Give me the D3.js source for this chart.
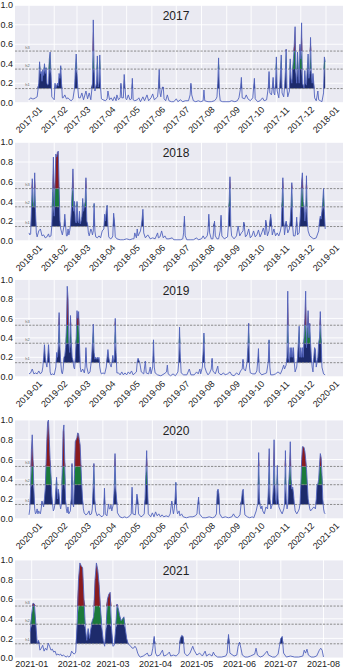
<!DOCTYPE html>
<html>
<head>
<meta charset="utf-8">
<script src="https://cdn.jsdelivr.net/npm/d3@7"></script>
<style>
body { margin: 0; background: #fff; }
svg { display: block; font-family: "Liberation Sans", Arial, sans-serif; }
</style>
</head>
<body>
<div id="chart"></div>
<script>
// thresholds
var h1 = 0.145, h2 = 0.345, h3 = 0.53;
var thresholdLabels = ["h1", "h2", "h3"];
var yTicks = [0, 0.2, 0.4, 0.6, 0.8, 1.0];
var years = [2017, 2018, 2019, 2020, 2021];
var axisEnds = ["2018-01-01", "2019-01-01", "2020-01-01", "2021-01-01", "2021-08-01"];

// [day of year (0 = Jan 1), value]
var series2017 = [[0,0.03],[2,0.05],[4,0.04],[6,0.04],[8,0.05],[10,0.06],[12,0.2],[13,0.42],[14,0.3],[15,0.32],[16,0.22],[17,0.34],[18,0.28],[19,0.4],[20,0.3],[21,0.36],[22,0.2],[23,0.18],[24,0.2],[25,0.45],[26,0.52],[27,0.3],[28,0.06],[29,0.05],[31,0.03],[32,0.2],[33,0.15],[35,0.2],[36,0.17],[37,0.3],[38,0.25],[39,0.38],[40,0.2],[41,0.05],[42,0.05],[44,0.08],[46,0.04],[48,0.05],[50,0.03],[52,0.02],[54,0.04],[56,0.15],[57,0.35],[58,0.5],[59,0.3],[60,0.15],[61,0.05],[63,0.05],[65,0.1],[67,0.03],[70,0.12],[72,0.04],[74,0.1],[76,0.03],[78,0.2],[79,0.85],[80,0.35],[81,0.12],[82,0.16],[83,0.2],[84,0.48],[85,0.16],[86,0.2],[87,0.49],[88,0.15],[89,0.04],[91,0.03],[94,0.02],[96,0.04],[97,0.12],[99,0.03],[101,0.05],[103,0.02],[105,0.06],[107,0.02],[108,0.08],[110,0.03],[112,0.05],[113,0.2],[114,0.05],[116,0.05],[117,0.29],[118,0.15],[119,0.04],[120,0.03],[122,0.08],[124,0.03],[126,0.04],[127,0.25],[128,0.03],[130,0.02],[133,0.03],[135,0.05],[137,0.01],[140,0.06],[142,0.02],[145,0.08],[147,0.02],[150,0.05],[152,0.09],[154,0.03],[158,0.06],[159,0.15],[160,0.34],[161,0.1],[162,0.06],[163,0.12],[164,0.16],[165,0.16],[166,0.04],[168,0.02],[170,0.08],[172,0.02],[175,0.01],[178,0.01],[181,0.04],[183,0.01],[186,0.03],[189,0.01],[192,0.02],[196,0.02],[198,0.08],[199,0.2],[200,0.08],[202,0.02],[205,0.01],[208,0.02],[211,0.01],[214,0.02],[215,0.13],[216,0.02],[220,0.01],[224,0.01],[228,0.02],[230,0.04],[231,0.06],[232,0.2],[233,0.46],[234,0.1],[235,0.02],[238,0.01],[242,0.01],[246,0.01],[249,0.02],[253,0.01],[256,0.02],[258,0.05],[260,0.15],[261,0.26],[262,0.05],[265,0.04],[267,0.08],[269,0.04],[272,0.02],[275,0.05],[276,0.15],[277,0.25],[278,0.04],[281,0.01],[284,0.02],[287,0.05],[289,0.02],[292,0.03],[294,0.15],[295,0.32],[296,0.1],[298,0.08],[299,0.15],[300,0.26],[301,0.1],[302,0.08],[303,0.2],[304,0.47],[305,0.12],[307,0.05],[308,0.15],[309,0.3],[310,0.49],[311,0.1],[313,0.06],[314,0.15],[315,0.3],[316,0.55],[317,0.15],[318,0.06],[320,0.12],[321,0.45],[322,0.25],[323,0.2],[324,0.35],[325,0.45],[326,0.6],[327,0.78],[328,0.3],[329,0.2],[330,0.52],[331,0.35],[332,0.2],[333,0.6],[334,0.45],[335,0.82],[336,0.2],[337,0.18],[338,0.15],[339,0.33],[340,0.2],[341,0.18],[342,0.35],[343,0.5],[344,0.25],[345,0.3],[346,0.67],[347,0.3],[348,0.2],[349,0.3],[350,0.2],[351,0.05],[353,0.02],[355,0.12],[356,0.03],[358,0.02],[360,0.01],[362,0.1],[363,0.47],[364,0.42]];

var series2018 = [[0,0.08],[1,0.06],[2,0.07],[3,0.3],[4,0.63],[5,0.4],[6,0.35],[7,0.69],[8,0.3],[9,0.08],[10,0.04],[12,0.1],[14,0.12],[16,0.05],[18,0.06],[20,0.03],[22,0.04],[24,0.07],[25,0.04],[27,0.05],[28,0.15],[29,0.5],[30,0.85],[31,0.25],[32,0.6],[33,0.88],[34,0.85],[35,0.9],[36,0.91],[37,0.55],[38,0.2],[39,0.12],[41,0.06],[43,0.15],[44,0.27],[45,0.15],[46,0.05],[47,0.05],[48,0.12],[49,0.06],[50,0.1],[51,0.16],[52,0.3],[53,0.5],[54,0.73],[55,0.3],[56,0.4],[57,0.2],[58,0.18],[59,0.4],[60,0.2],[61,0.18],[62,0.3],[63,0.17],[64,0.2],[65,0.25],[66,0.43],[67,0.3],[68,0.35],[69,0.4],[70,0.64],[71,0.2],[72,0.17],[73,0.08],[74,0.05],[76,0.12],[77,0.1],[78,0.06],[79,0.1],[80,0.38],[81,0.1],[82,0.04],[84,0.03],[86,0.05],[88,0.03],[90,0.1],[92,0.12],[93,0.27],[94,0.2],[95,0.3],[96,0.36],[97,0.15],[98,0.04],[100,0.02],[102,0.03],[103,0.05],[104,0.28],[105,0.2],[106,0.04],[108,0.02],[112,0.01],[116,0.01],[120,0.02],[124,0.01],[127,0.02],[129,0.02],[130,0.08],[132,0.03],[133,0.12],[134,0.05],[137,0.1],[138,0.15],[139,0.22],[140,0.32],[141,0.08],[143,0.03],[146,0.06],[149,0.02],[152,0.03],[155,0.02],[158,0.08],[159,0.03],[161,0.04],[163,0.1],[165,0.03],[167,0.05],[169,0.02],[172,0.02],[176,0.03],[178,0.01],[182,0.01],[186,0.01],[189,0.02],[190,0.08],[191,0.25],[192,0.05],[194,0.01],[198,0.01],[202,0.01],[206,0.03],[208,0.01],[212,0.02],[214,0.05],[216,0.02],[219,0.05],[220,0.1],[221,0.27],[222,0.08],[224,0.02],[226,0.02],[228,0.2],[229,0.05],[231,0.02],[233,0.02],[235,0.1],[236,0.26],[237,0.05],[240,0.02],[244,0.04],[245,0.15],[246,0.4],[247,0.65],[248,0.15],[249,0.05],[252,0.02],[255,0.05],[257,0.15],[259,0.05],[261,0.08],[263,0.1],[264,0.19],[266,0.04],[268,0.06],[270,0.12],[272,0.03],[274,0.05],[276,0.1],[278,0.04],[280,0.06],[282,0.11],[284,0.04],[286,0.08],[288,0.13],[290,0.06],[291,0.21],[293,0.05],[295,0.1],[297,0.27],[299,0.06],[301,0.12],[303,0.05],[305,0.08],[307,0.05],[309,0.1],[310,0.15],[311,0.4],[312,0.64],[313,0.2],[314,0.06],[316,0.2],[318,0.08],[320,0.12],[321,0.2],[322,0.35],[323,0.59],[324,0.15],[325,0.05],[327,0.05],[328,0.12],[329,0.24],[330,0.06],[332,0.08],[333,0.2],[334,0.35],[335,0.6],[336,0.69],[337,0.4],[338,0.35],[339,0.2],[340,0.3],[341,0.66],[342,0.2],[343,0.1],[345,0.05],[348,0.03],[350,0.02],[353,0.03],[356,0.1],[357,0.2],[358,0.25],[359,0.22],[360,0.3],[361,0.4],[362,0.53],[363,0.3],[364,0.12]];

var series2019 = [[0,0.03],[2,0.04],[4,0.08],[6,0.03],[8,0.04],[10,0.03],[12,0.06],[14,0.03],[16,0.05],[17,0.1],[18,0.2],[19,0.33],[20,0.2],[21,0.14],[22,0.1],[23,0.2],[24,0.33],[25,0.2],[26,0.05],[27,0.02],[29,0.03],[31,0.02],[33,0.1],[34,0.25],[35,0.2],[36,0.3],[37,0.66],[38,0.3],[39,0.15],[40,0.05],[41,0.03],[42,0.08],[43,0.2],[44,0.22],[45,0.3],[46,0.5],[47,0.93],[48,0.8],[49,0.35],[50,0.25],[51,0.63],[52,0.35],[53,0.2],[54,0.17],[55,0.1],[56,0.08],[57,0.2],[58,0.4],[59,0.68],[60,0.6],[61,0.67],[62,0.35],[63,0.1],[64,0.05],[66,0.08],[68,0.04],[69,0.1],[70,0.3],[71,0.1],[73,0.03],[75,0.05],[76,0.12],[77,0.2],[78,0.35],[79,0.54],[80,0.25],[81,0.18],[82,0.2],[83,0.18],[84,0.2],[85,0.18],[86,0.2],[87,0.1],[88,0.05],[89,0.03],[91,0.04],[93,0.03],[95,0.1],[96,0.2],[97,0.28],[98,0.2],[99,0.15],[100,0.12],[101,0.1],[102,0.15],[103,0.22],[104,0.15],[105,0.2],[106,0.6],[107,0.25],[108,0.04],[110,0.04],[112,0.02],[114,0.05],[116,0.02],[118,0.04],[120,0.02],[122,0.05],[124,0.03],[126,0.06],[128,0.02],[132,0.05],[133,0.15],[134,0.19],[135,0.17],[136,0.15],[137,0.1],[138,0.05],[141,0.03],[143,0.16],[144,0.04],[147,0.03],[149,0.1],[150,0.03],[152,0.1],[153,0.38],[154,0.1],[155,0.04],[158,0.02],[162,0.01],[166,0.03],[169,0.05],[170,0.12],[171,0.03],[174,0.01],[177,0.03],[180,0.01],[183,0.05],[184,0.15],[185,0.51],[186,0.2],[187,0.04],[190,0.02],[194,0.02],[197,0.08],[199,0.02],[203,0.02],[206,0.05],[208,0.03],[210,0.08],[211,0.03],[213,0.1],[214,0.25],[215,0.45],[216,0.1],[218,0.05],[220,0.02],[222,0.04],[224,0.08],[225,0.19],[226,0.06],[229,0.03],[232,0.11],[233,0.04],[236,0.02],[239,0.04],[241,0.02],[244,0.03],[247,0.05],[249,0.02],[252,0.01],[255,0.04],[258,0.02],[260,0.06],[262,0.08],[263,0.18],[264,0.08],[266,0.06],[267,0.1],[268,0.15],[269,0.3],[270,0.55],[271,0.1],[272,0.04],[275,0.03],[278,0.03],[280,0.06],[281,0.15],[282,0.29],[283,0.05],[286,0.02],[289,0.03],[292,0.04],[294,0.15],[295,0.38],[296,0.1],[297,0.02],[300,0.02],[303,0.03],[306,0.05],[309,0.03],[311,0.07],[313,0.12],[314,0.08],[316,0.12],[317,0.2],[318,0.88],[319,0.2],[320,0.15],[321,0.3],[322,0.2],[323,0.3],[324,0.2],[325,0.3],[326,0.15],[327,0.05],[329,0.1],[330,0.2],[331,0.35],[332,0.52],[333,0.2],[334,0.3],[335,0.2],[336,0.3],[337,0.2],[338,0.4],[339,0.6],[340,0.88],[341,0.3],[342,0.5],[343,0.68],[344,0.4],[345,0.55],[346,0.35],[347,0.2],[348,0.1],[349,0.05],[350,0.2],[351,0.3],[352,0.28],[353,0.1],[355,0.2],[356,0.35],[357,0.4],[358,0.67],[359,0.4],[360,0.1],[362,0.03],[364,0.02]];

var series2020 = [[0,0.04],[1,0.1],[2,0.3],[3,0.7],[4,0.85],[5,0.6],[6,0.3],[7,0.1],[8,0.05],[9,0.06],[10,0.1],[11,0.05],[12,0.08],[13,0.06],[14,0.05],[15,0.1],[16,0.18],[17,0.15],[18,0.12],[19,0.2],[20,0.3],[21,0.55],[22,0.8],[23,0.98],[24,1.0],[25,0.8],[26,0.6],[27,0.45],[28,0.25],[29,0.15],[30,0.08],[31,0.1],[32,0.15],[33,0.3],[34,0.42],[35,0.2],[36,0.3],[37,0.25],[38,0.15],[39,0.1],[40,0.15],[41,0.5],[42,0.88],[43,0.95],[44,0.6],[45,0.2],[46,0.1],[47,0.06],[48,0.12],[49,0.05],[51,0.08],[52,0.2],[53,0.56],[54,0.15],[55,0.12],[56,0.45],[57,0.78],[58,0.8],[59,0.82],[60,0.87],[61,0.86],[62,0.8],[63,0.75],[64,0.55],[65,0.35],[66,0.2],[67,0.1],[68,0.06],[70,0.04],[72,0.05],[74,0.08],[75,0.04],[77,0.05],[78,0.1],[79,0.3],[80,0.56],[81,0.2],[82,0.08],[84,0.03],[86,0.05],[88,0.03],[90,0.02],[92,0.04],[93,0.31],[94,0.05],[96,0.03],[98,0.15],[99,0.1],[100,0.1],[101,0.14],[102,0.08],[104,0.15],[105,0.3],[106,0.66],[107,0.3],[108,0.2],[109,0.06],[112,0.02],[115,0.01],[118,0.02],[120,0.01],[123,0.02],[126,0.05],[127,0.32],[128,0.05],[131,0.04],[132,0.15],[133,0.25],[134,0.2],[135,0.05],[138,0.02],[140,0.03],[142,0.05],[143,0.2],[144,0.45],[145,0.69],[146,0.35],[147,0.05],[150,0.02],[152,0.06],[154,0.02],[156,0.07],[158,0.03],[160,0.05],[162,0.02],[164,0.04],[166,0.02],[169,0.03],[172,0.02],[174,0.05],[175,0.12],[176,0.18],[177,0.1],[178,0.05],[179,0.1],[180,0.2],[181,0.37],[182,0.1],[183,0.05],[185,0.08],[186,0.03],[188,0.05],[190,0.02],[194,0.01],[198,0.02],[202,0.02],[205,0.03],[207,0.05],[208,0.15],[209,0.22],[210,0.05],[214,0.01],[218,0.01],[222,0.02],[226,0.01],[229,0.02],[231,0.05],[232,0.28],[233,0.3],[234,0.25],[235,0.05],[238,0.01],[242,0.02],[246,0.01],[250,0.02],[252,0.05],[254,0.02],[257,0.01],[260,0.04],[262,0.2],[263,0.28],[264,0.3],[265,0.15],[266,0.04],[269,0.02],[272,0.01],[275,0.02],[277,0.01],[280,0.08],[281,0.12],[282,0.15],[283,0.67],[284,0.2],[285,0.12],[286,0.1],[287,0.13],[288,0.08],[290,0.05],[292,0.12],[294,0.1],[295,0.3],[296,0.71],[297,0.2],[298,0.1],[300,0.15],[301,0.3],[302,0.8],[303,0.35],[304,0.2],[305,0.15],[306,0.54],[307,0.2],[308,0.12],[310,0.08],[312,0.05],[314,0.1],[315,0.15],[316,0.69],[317,0.2],[318,0.1],[319,0.15],[320,0.35],[321,0.5],[322,0.78],[323,0.4],[324,0.3],[325,0.32],[326,0.25],[327,0.15],[328,0.08],[330,0.05],[332,0.08],[333,0.1],[334,0.15],[335,0.35],[336,0.6],[337,0.73],[338,0.73],[339,0.72],[340,0.68],[341,0.6],[342,0.5],[343,0.35],[344,0.2],[345,0.15],[346,0.1],[347,0.08],[349,0.1],[351,0.12],[353,0.1],[354,0.2],[355,0.35],[356,0.35],[357,0.4],[358,0.55],[359,0.66],[360,0.62],[361,0.45],[362,0.2],[363,0.1],[364,0.06],[365,0.05]];

var series2021 = [[-1,0.27],[0,0.45],[1,0.56],[2,0.55],[3,0.35],[4,0.15],[5,0.18],[6,0.08],[7,0.1],[8,0.13],[9,0.07],[10,0.1],[11,0.08],[12,0.15],[13,0.12],[14,0.08],[15,0.09],[16,0.06],[17,0.07],[18,0.03],[19,0.04],[20,0.03],[21,0.04],[22,0.02],[23,0.03],[24,0.02],[25,0.01],[26,0.02],[27,0.01],[28,0.02],[29,0.07],[30,0.05],[31,0.04],[32,0.06],[33,0.35],[34,0.8],[35,0.97],[36,0.94],[37,0.92],[38,0.6],[39,0.3],[40,0.18],[41,0.3],[42,0.2],[43,0.3],[44,0.38],[45,0.42],[46,0.8],[47,0.97],[48,0.9],[49,0.75],[50,0.5],[51,0.3],[52,0.18],[53,0.12],[54,0.3],[55,0.6],[56,0.65],[57,0.67],[58,0.3],[59,0.12],[60,0.13],[61,0.3],[62,0.55],[63,0.5],[64,0.43],[65,0.38],[66,0.4],[67,0.42],[68,0.3],[69,0.2],[70,0.15],[71,0.13],[72,0.12],[73,0.1],[74,0.1],[75,0.12],[76,0.1],[77,0.05],[78,0.02],[79,0.01],[81,0.02],[83,0.04],[84,0.05],[85,0.02],[87,0.03],[88,0.1],[89,0.22],[90,0.05],[91,0.02],[93,0.03],[95,0.08],[96,0.02],[98,0.03],[100,0.06],[101,0.02],[103,0.03],[105,0.02],[107,0.05],[108,0.2],[109,0.23],[110,0.22],[111,0.05],[113,0.02],[115,0.05],[117,0.12],[118,0.08],[120,0.03],[122,0.05],[124,0.02],[126,0.07],[127,0.02],[129,0.04],[131,0.02],[132,0.06],[133,0.03],[135,0.01],[138,0.01],[141,0.02],[142,0.05],[143,0.24],[144,0.05],[147,0.02],[149,0.03],[150,0.12],[151,0.16],[152,0.1],[153,0.03],[155,0.01],[157,0.01],[159,0.02],[162,0.04],[163,0.1],[164,0.03],[166,0.01],[168,0.02],[171,0.07],[172,0.03],[175,0.01],[177,0.01],[179,0.04],[180,0.12],[181,0.2],[182,0.22],[183,0.05],[185,0.01],[188,0.02],[191,0.01],[194,0.01],[197,0.02],[198,0.08],[199,0.05],[200,0.09],[201,0.03],[203,0.01],[205,0.01],[207,0.02],[209,0.08],[210,0.1],[211,0.08],[212,0.01]];

var allSeries = [series2017, series2018, series2019, series2020, series2021];

// layout
var W = 343, H = 671;
var plotLeft = 15, plotRight = 343;
var panelTop = [5.3, 142.3, 279.5, 420, 560];
var panelBottom = [102.7, 240.8, 376.8, 518.8, 658];
var tickRange = [[29, 326], [29, 326], [29, 326], [29, 326], [31.7, 323.5]];

var bg = "#eaeaf2";
var navy = "#1d2b6c", green = "#1b7a3b", red = "#8a1b1e", lineColor = "#5163bd";

var fmt = d3.utcFormat("%Y-%m");
var parse = d3.utcParse("%Y-%m-%d");

var svg = d3.select("#chart")
  .append("svg")
  .attr("width", W)
  .attr("height", H);

var defs = svg.append("defs");

years.forEach(function(year, i) {
  var top = panelTop[i], bottom = panelBottom[i];
  var start = new Date(Date.UTC(year, 0, 1));
  var end = parse(axisEnds[i]);

  var x = d3.scaleUtc().domain([start, end]).range(tickRange[i]);
  var y = d3.scaleLinear().domain([0, 1]).range([bottom, top]);

  var data = allSeries[i].map(function(d) {
    return { date: new Date(Date.UTC(year, 0, 1 + d[0])), v: d[1] };
  });

  var g = svg.append("g");

  defs.append("clipPath")
    .attr("id", "clip" + i)
    .append("rect")
    .attr("x", plotLeft)
    .attr("y", top)
    .attr("width", plotRight - plotLeft)
    .attr("height", bottom - top);

  g.append("rect")
    .attr("x", plotLeft)
    .attr("y", top)
    .attr("width", plotRight - plotLeft)
    .attr("height", bottom - top)
    .attr("fill", bg);

  var months = d3.utcMonth.range(start, d3.utcDay.offset(end, 1));

  // grid
  g.selectAll(".hgrid")
    .data(yTicks)
    .enter()
    .append("line")
    .attr("x1", plotLeft)
    .attr("x2", plotRight)
    .attr("y1", function(d) { return y(d); })
    .attr("y2", function(d) { return y(d); })
    .attr("stroke", "#fff")
    .attr("stroke-width", 0.9);

  g.selectAll(".vgrid")
    .data(months)
    .enter()
    .append("line")
    .attr("x1", function(d) { return x(d); })
    .attr("x2", function(d) { return x(d); })
    .attr("y1", top)
    .attr("y2", bottom)
    .attr("stroke", "#fff")
    .attr("stroke-width", 0.9);

  var plot = g.append("g").attr("clip-path", "url(#clip" + i + ")");

  // threshold bands
  var bands = [[h1, h2, navy], [h2, h3, green], [h3, 1.2, red]];
  bands.forEach(function(b) {
    var area = d3.area()
      .x(function(d) { return x(d.date); })
      .y0(y(b[0]))
      .y1(function(d) { return y(Math.max(b[0], Math.min(b[1], d.v))); });
    plot.append("path")
      .datum(data)
      .attr("d", area)
      .attr("fill", b[2]);
  });

  // threshold lines
  var levels = [h1, h2, h3];
  plot.selectAll(".thr")
    .data(levels)
    .enter()
    .append("line")
    .attr("x1", plotLeft)
    .attr("x2", plotRight)
    .attr("y1", function(d) { return y(d); })
    .attr("y2", function(d) { return y(d); })
    .attr("stroke", "#808080")
    .attr("stroke-width", 0.9)
    .attr("stroke-dasharray", "2.2,1.3");

  var line = d3.line()
    .x(function(d) { return x(d.date); })
    .y(function(d) { return y(d.v); });

  plot.append("path")
    .datum(data)
    .attr("d", line)
    .attr("fill", "none")
    .attr("stroke", lineColor)
    .attr("stroke-width", 0.9)
    .attr("stroke-linejoin", "round");

  g.selectAll(".thrlabel")
    .data(levels)
    .enter()
    .append("text")
    .attr("x", 27.5)
    .attr("y", function(d) { return y(d) - 2.5; })
    .attr("text-anchor", "middle")
    .attr("font-size", "4px")
    .attr("fill", "#666")
    .text(function(d, k) { return thresholdLabels[k]; });

  // title
  g.append("text")
    .attr("x", 176)
    .attr("y", top + 15)
    .attr("text-anchor", "middle")
    .attr("font-size", "12px")
    .attr("fill", "#222")
    .text(year);

  // y labels
  g.selectAll(".ylab")
    .data(yTicks)
    .enter()
    .append("text")
    .attr("x", 13)
    .attr("y", function(d) { return y(d); })
    .attr("dy", "0.35em")
    .attr("text-anchor", "end")
    .attr("font-size", "9px")
    .attr("fill", "#222")
    .text(function(d) { return d3.format(".1f")(d); });

  // x labels
  if (i < 4) {
    g.selectAll(".xlab")
      .data(months)
      .enter()
      .append("text")
      .attr("transform", function(d) {
        return "translate(" + x(d) + "," + (bottom + 17) + ") rotate(-45)";
      })
      .attr("dy", "0.35em")
      .attr("text-anchor", "middle")
      .attr("font-size", "9px")
      .attr("fill", "#222")
      .text(function(d) { return fmt(d); });
  } else {
    g.selectAll(".xlab")
      .data(months)
      .enter()
      .append("text")
      .attr("x", function(d) { return x(d); })
      .attr("y", bottom + 8.5)
      .attr("text-anchor", "middle")
      .attr("font-size", "9px")
      .attr("fill", "#222")
      .text(function(d) { return fmt(d); });
  }
});
</script>
</body>
</html>
